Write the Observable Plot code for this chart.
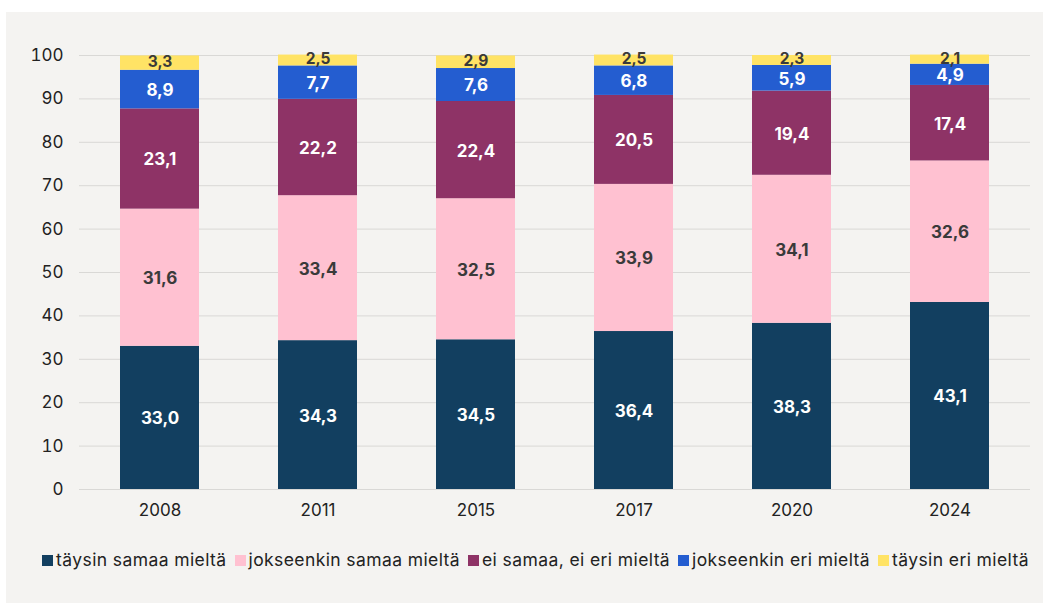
<!DOCTYPE html>
<html><head><meta charset="utf-8">
<script src="https://cdn.jsdelivr.net/npm/d3@7"></script>
<script src="https://cdn.jsdelivr.net/npm/@observablehq/plot@0.6"></script>
<style>
body{margin:0;background:#fff;width:1049px;height:606px;position:relative;overflow:hidden;font-family:Inter,"Open Sans",sans-serif;}
#panel{position:absolute;left:6px;top:12px;width:1037px;height:591px;background:#f4f3f1;}
#chart{position:absolute;left:0;top:0;}
#legend{position:absolute;left:11px;top:549px;width:1049px;text-align:center;font-size:17.5px;color:#222;white-space:nowrap;letter-spacing:0.4px}
#legend span.item{margin:0 4px;}
#legend i{display:inline-block;width:11px;height:11px;margin-right:3px;vertical-align:0px;}
</style></head><body>
<div id="panel"></div>
<div id="chart"></div>
<div id="legend"></div>
<script>
const years = ["2008","2011","2015","2017","2020","2024"];
const seriesNames = ["täysin samaa mieltä","jokseenkin samaa mieltä","ei samaa, ei eri mieltä","jokseenkin eri mieltä","täysin eri mieltä"];
const colors = ["#123f60","#ffc1d1","#8e3366","#245dd0","#ffe365"];
const labelColors = ["#ffffff","#3a3a3a","#ffffff","#ffffff","#3a3a3a"];
const taysinSamaa = [33.0,34.3,34.5,36.4,38.3,43.1];
const jokseenkinSamaa = [31.6,33.4,32.5,33.9,34.1,32.6];
const eiSamaaEiEri = [23.1,22.2,22.4,20.5,19.4,17.4];
const jokseenkinEri = [8.9,7.7,7.6,6.8,5.9,4.9];
const taysinEri = [3.3,2.5,2.9,2.5,2.3,2.1];
const yTicks = [0,10,20,30,40,50,60,70,80,90,100];

const seriesValues = [taysinSamaa,jokseenkinSamaa,eiSamaaEiEri,jokseenkinEri,taysinEri];
const rows = [];
years.forEach((y,i)=>{
  let base=0;
  seriesValues.forEach((vals,s)=>{
    rows.push({year:y, series:seriesNames[s], value:vals[i], y1:base, y2:base+vals[i], s});
    base+=vals[i];
  });
});
const fmt = v => v.toFixed(1).replace(".",",");

const plot = Plot.plot({
  width:1049, height:530,
  marginLeft:79, marginRight:19, marginTop:55, marginBottom:41,
  style:{background:"transparent", fontFamily:"Inter,'Open Sans',sans-serif", fontSize:"16px", color:"#222"},
  x:{domain:years, paddingInner:0.5, paddingOuter:0.25, label:null},
  y:{domain:[0,100], label:null},
  color:{domain:seriesNames, range:colors},
  marks:[
    Plot.ruleY(yTicks,{stroke:"#d9d8d6", strokeWidth:1}),
    Plot.rectY(rows,{x:"year", y1:"y1", y2:"y2", fill:"series"}),
    Plot.text(rows.filter(d=>d.s<4),{x:"year", y:d=>(d.y1+d.y2)/2, text:d=>fmt(d.value), fill:d=>labelColors[d.s], fontWeight:"bold", fontSize:17, dy:1}),
    Plot.text(rows.filter(d=>d.s===4),{x:"year", y:d=>(d.y1+d.y2)/2, text:d=>fmt(d.value), fill:"#3a3a3a", fontWeight:"bold", fontSize:15.5, dy:-1}),
    Plot.axisX({tickSize:0, tickPadding:14, fontSize:17, label:null, fill:"#222"}),
    Plot.axisY({ticks:yTicks, tickSize:0, tickPadding:16, fontSize:17, label:null, fill:"#222"})
  ]
});
document.getElementById("chart").appendChild(plot);

const lg = document.getElementById("legend");
seriesNames.forEach((n,i)=>{
  const s=document.createElement("span"); s.className="item";
  s.innerHTML=`<i style="background:${colors[i]}"></i>${n}`;
  lg.appendChild(s);
});
</script>
</body></html>
